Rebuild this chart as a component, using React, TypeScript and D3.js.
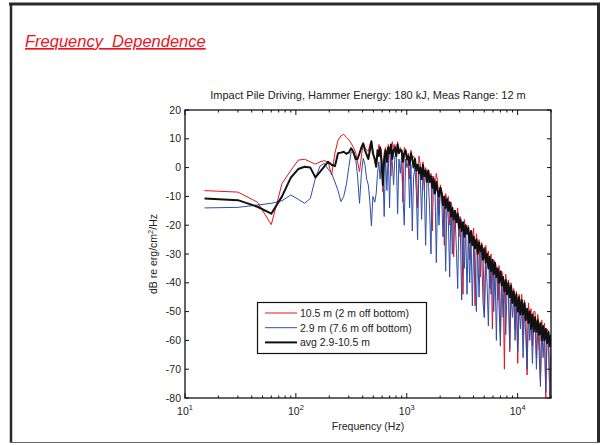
import React from "react";
import * as d3 from "d3";

// ---------- DATA ----------
const LOW_FREQ = [
  15, 30, 45, 60, 75, 90, 105, 120, 135, 150, 165,
  180, 195, 210, 225, 240, 255, 270, 285, 300, 315, 330,
  345, 360, 375, 390, 405, 420, 435, 450, 465, 480, 495,
];
const HIGH_FREQ = [
  515, 530, 545, 560, 575, 592, 609, 626, 644, 662,
  681, 700, 720, 740, 761, 782, 804, 827, 850, 874,
  899, 924, 950, 977, 1004, 1032, 1061, 1091, 1122, 1153,
  1186, 1219, 1253, 1288, 1325, 1362, 1400, 1440, 1480, 1522,
  1565, 1609, 1654, 1700, 1748, 1797, 1848, 1900, 1953, 2008,
  2065, 2123, 2182, 2244, 2307, 2372, 2438, 2507, 2577, 2650,
  2724, 2801, 2880, 2960, 3044, 3129, 3217, 3308, 3401, 3496,
  3594, 3695, 3799, 3906, 4016, 4129, 4245, 4364, 4487, 4613,
  4742, 4876, 5013, 5154, 5298, 5447, 5600, 5758, 5920, 6086,
  6257, 6433, 6614, 6800, 6991, 7187, 7389, 7597, 7811, 8030,
  8256, 8488, 8726, 8972, 9224, 9483, 9750, 10024, 10305, 10595,
  10893, 11199, 11514, 11837, 12170, 12512, 12864, 13225, 13597, 13979,
  14372, 14776, 15192, 15619, 16058, 16509, 16973, 17450, 17941, 18445,
  18964, 19497, 20000,
];

const RED_LOW = [
  -8, -8.5, -12, -19.8, -5.5, -1, 2.6, 2.9, 2.0, 1.2, 2.0,
  2.4, 2.0, -2.6, 5, 9.5, 11, 11.6, 10.5, 9.6, 8.5, 7,
  5.5, 2, -1.4, 4, 8.4, 7, 6, 5.7, 8, 9.6, 6,
];
const RED_HIGH = [
  2, 0.3, 4, 8, 7.2, 6, -8.4, 5, 7, 3,
  8, 6, -3, 9, 7, 8, 4, 9, 6, 7,
  5, -12, 7, 6, 2, 5, -4, 6, 3, 4,
  3, 0, -14, 4, 1, -2, 2, -8, 0, -3,
  -1, -4, -2, -22, -3, -7, -2, -5, -16, -6,
  -8, -10, -27, -9, -12, -10, -20, -12, -14, -31,
  -15, -18, -14, -24, -17, -20, -44, -18, -22, -21,
  -20, -32, -22, -24, -21, -48, -23, -27, -25, -38,
  -26, -29, -52, -27, -31, -29, -42, -30, -56, -32,
  -33, -35, -46, -34, -58, -36, -38, -70, -37, -44,
  -39, -64, -40, -45, -42, -56, -43, -68, -44, -50,
  -44, -58, -46, -49, -72, -47, -52, -49, -62, -50,
  -50, -66, -51, -55, -74, -53, -60, -54, -80, -56,
  -57, -80, -62,
];

const BLUE_LOW = [
  -14, -13.8, -13, -12.4, -11.5, -9.5, -11, -12.4, -10.7, -3.7, 0.5,
  1.5, -0.5, -2, -5, -8, -11.8, -10, -6, 0, 5.5, 5,
  3.8, -3, -12.4, -2, 3.2, 1, -4, -6, -12, -20.3, -10,
];
const BLUE_HIGH = [
  -12, -9, -2, 2, -4, 3, -1, -17, 4, -8,
  5, -14, 6, 2, -6, 4, 5, -16, 3, -2,
  4, -10, -20, 3, 0, 2, -14, 1, -22, -3,
  0, -8, -25, 1, -3, -18, -1, -6, -27, -4,
  -4, -15, -30, -3, -9, -6, -33, -8, -20, -7,
  -10, -24, -12, -36, -11, -18, -38, -13, -30, -15,
  -16, -28, -42, -17, -22, -46, -19, -35, -21, -44,
  -23, -40, -24, -48, -26, -34, -50, -27, -45, -29,
  -30, -47, -52, -31, -40, -55, -32, -44, -34, -50,
  -35, -60, -37, -48, -62, -38, -52, -40, -58, -42,
  -41, -63, -43, -52, -45, -60, -46, -64, -47, -56,
  -47, -66, -49, -58, -70, -50, -60, -52, -68, -54,
  -52, -70, -54, -64, -76, -55, -66, -57, -78, -58,
  -60, -79, -63,
];

const BLACK_LOW = [
  -10.7, -11.3, -13.6, -16, -10, -3.5, -0.5, 0.3, 0, -3.4, -1.5,
  0.3, 2, 1, 0.5, 5, 5.2, 5.5, 4.8, 5.2, 6.7, 5.5,
  3, 3, 5, 7, 8.4, 6, 4.5, 3, 6, 9, 5,
];
const BLACK_HIGH = [
  3, 0.3, 6, 4, 7, 2, -6, 3, 6, 2,
  7, 5, 8, 3, 6, 7, 4, 8, 5, 6,
  6, 2, 5, 6, 3, 4, 1, 5, 3, 0,
  3, -1, 1, -2, 0, -4, 1, -3, -1, -5,
  -1, -5, -3, -7, -4, -9, -5, -8, -10, -7,
  -9, -13, -10, -14, -11, -15, -12, -17, -14, -18,
  -15, -19, -16, -21, -18, -22, -19, -24, -20, -23,
  -21, -26, -22, -27, -24, -28, -25, -30, -26, -29,
  -27, -32, -28, -33, -30, -35, -31, -36, -32, -37,
  -33, -38, -35, -40, -36, -41, -38, -43, -39, -44,
  -40, -45, -41, -47, -43, -48, -44, -50, -45, -51,
  -46, -51, -47, -53, -49, -54, -50, -56, -51, -57,
  -52, -57, -53, -58, -54, -60, -55, -60, -56, -61,
  -57, -62, -58,
];

const X_TICKS = [10, 100, 1000, 10000];
const X_EXPONENTS = ["1", "2", "3", "4"];
const Y_TICKS = [20, 10, 0, -10, -20, -30, -40, -50, -60, -70, -80];
const LEGEND_LABELS = ["10.5 m (2 m off bottom)", "2.9 m (7.6 m off bottom)", "avg 2.9-10.5 m"];

const FONT = "'Liberation Sans', Arial, Helvetica, sans-serif";

export default function App() {
  const L = 185, R = 551, T = 110, B = 398;
  const x = d3.scaleLog().domain([10, 20000]).range([L, R]);
  const y = d3.scaleLinear().domain([-80, 20]).range([B, T]);
  const freq = [...LOW_FREQ, ...HIGH_FREQ];
  const mk = (vals: number[]) => {
    const pts = vals
      .map((v, i) => [freq[i], v] as [number, number])
      .filter((p) => p[0] !== undefined);
    return d3.line<[number, number]>().x((d) => x(d[0])).y((d) => y(d[1]))(pts) || "";
  };
  const redPath = mk([...RED_LOW, ...RED_HIGH]);
  const bluePath = mk([...BLUE_LOW, ...BLUE_HIGH]);
  const blackPath = mk([...BLACK_LOW, ...BLACK_HIGH]);

  const minor: number[] = [];
  for (let d = 10; d < 20000; d *= 10) {
    for (let k = 2; k <= 9; k++) if (d * k <= 20000) minor.push(d * k);
  }

  const RED = "#e8141c";
  const BLUE = "#2f4ea8";
  const BLACK = "#111";
  const legendColors = [RED, BLUE, BLACK];
  const legendWidths = [1, 1, 2];

  return (
    <svg width={602} height={445} style={{ position: "absolute", left: 0, top: 0, background: "#fff" }}>
      <defs>
        <clipPath id="plotclip">
          <rect x={L} y={T} width={R - L} height={B - T} />
        </clipPath>
      </defs>
      {/* frame */}
      <line x1={9} y1={4} x2={600} y2={4} stroke="#2a2a2a" strokeWidth={3} />
      <line x1={11} y1={3} x2={11} y2={443} stroke="#2a2a2a" strokeWidth={2.5} />
      <line x1={598.5} y1={3} x2={598.5} y2={443} stroke="#2a2a2a" strokeWidth={3} />
      <line x1={10} y1={442.5} x2={600} y2={442.5} stroke="#666" strokeWidth={1.2} />

      <text x={25} y={47} fontFamily={FONT} fontSize={16.5} fontStyle="italic" fill="#e8161e"
        textDecoration="underline" style={{ whiteSpace: "pre" }}>
        {"Frequency  Dependence"}
      </text>

      <text x={368} y={99} textAnchor="middle" fontFamily={FONT} fontSize={11} fill="#222">
        Impact Pile Driving, Hammer Energy: 180 kJ, Meas Range: 12 m
      </text>

      {/* data */}
      <g clipPath="url(#plotclip)" fill="none" strokeLinejoin="round">
        <path d={redPath} stroke={RED} strokeWidth={1} />
        <path d={bluePath} stroke={BLUE} strokeWidth={1} />
        <path d={blackPath} stroke={BLACK} strokeWidth={2} />
      </g>

      {/* axes box */}
      <rect x={L} y={T} width={R - L} height={B - T} fill="none" stroke="#111" strokeWidth={1.3} />

      {/* x ticks */}
      {X_TICKS.map((t, i) => (
        <g key={"xt" + t}>
          <line x1={x(t)} x2={x(t)} y1={B} y2={B - 5} stroke="#111" />
          <line x1={x(t)} x2={x(t)} y1={T} y2={T + 5} stroke="#111" />
          <text x={x(t)} y={415} textAnchor="middle" fontFamily={FONT} fontSize={10.5} fill="#222">
            10<tspan dy={-5} fontSize={7.5}>{X_EXPONENTS[i]}</tspan>
          </text>
        </g>
      ))}
      {minor.map((t) => (
        <g key={"xm" + t}>
          <line x1={x(t)} x2={x(t)} y1={B} y2={B - 2.5} stroke="#111" />
          <line x1={x(t)} x2={x(t)} y1={T} y2={T + 2.5} stroke="#111" />
        </g>
      ))}

      {/* y ticks */}
      {Y_TICKS.map((t) => (
        <g key={"yt" + t}>
          <line x1={L} x2={L + 4} y1={y(t)} y2={y(t)} stroke="#111" />
          <line x1={R} x2={R - 4} y1={y(t)} y2={y(t)} stroke="#111" />
          <text x={181} y={y(t) + 3.6} textAnchor="end" fontFamily={FONT} fontSize={10.5} fill="#222">
            {t}
          </text>
        </g>
      ))}

      <text x={368} y={430} textAnchor="middle" fontFamily={FONT} fontSize={10.5} fill="#222">
        Frequency (Hz)
      </text>
      <text transform={`translate(157, ${254}) rotate(-90)`} textAnchor="middle" fontFamily={FONT} fontSize={10.5} fill="#222">
        dB re erg/cm<tspan dy={-4} fontSize={7.5}>2</tspan><tspan dy={4}>/Hz</tspan>
      </text>

      {/* legend */}
      <rect x={257.5} y={302.5} width={169} height={51} fill="#fff" stroke="#111" strokeWidth={1.2} />
      {LEGEND_LABELS.map((lab, i) => {
        const ly = 313 + i * 14.7;
        return (
          <g key={lab}>
            <line x1={265} x2={297} y1={ly} y2={ly} stroke={legendColors[i]} strokeWidth={legendWidths[i]} />
            <text x={300} y={ly + 3.8} fontFamily={FONT} fontSize={10.5} fill="#222">{lab}</text>
          </g>
        );
      })}
    </svg>
  );
}
